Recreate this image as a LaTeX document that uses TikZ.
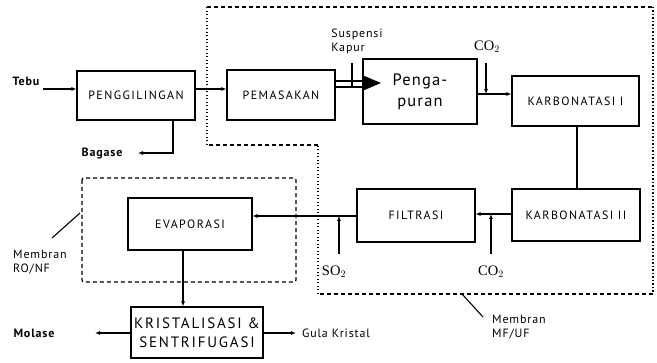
\documentclass[tikz,border=0pt]{standalone}
\usepackage{fontspec}
\setmainfont{PT Sans}[LetterSpace=7]
\newfontfamily\serifchem{Liberation Serif}
\usetikzlibrary{arrows.meta}
\tikzset{
  procbox/.style={draw, line width=1.1pt, minimum width=#1, inner sep=0pt, font=\fontsize{12}{13}\selectfont\addfontfeature{LetterSpace=12}, align=center},
  flow/.style={line width=1.1pt, -{Latex[length=5pt,width=4pt]}},
  plain/.style={line width=1.1pt},
  lbl/.style={inner sep=0pt, font=\fontsize{12}{14}\selectfont},
  blbl/.style={inner sep=0pt, font=\bfseries\fontsize{12}{14}\selectfont},
  chem/.style={inner sep=0pt, font=\serifchem\fontsize{14.5}{15}\selectfont},
  dashb/.style={line width=1.3pt, dash pattern=on 4pt off 3pt},
  dotb/.style={line width=1.1pt, dash pattern=on 1.2pt off 2.3pt},
}
\begin{document}
\begin{tikzpicture}[x=1pt,y=-1pt]
\useasboundingbox (0,0) rectangle (657,363);
% membrane regions
\draw[dashb] (207,7) -- (653,7);
\draw[dotb] (653,7) -- (653,294);
\draw[dashb] (653,294) -- (318,294);
\draw[dotb] (318,294) -- (318,145);
\draw[dashb] (318,145) -- (207,145);
\draw[dotb] (207,145) -- (207,7);
\draw[dashb, rounded corners=2pt] (82,178) rectangle (296,282);
% boxes
\node[procbox=118pt, minimum height=49pt] (peng) at (136,95.5) {PENGGILINGAN};
\node[procbox=108pt, minimum height=50pt] (pema) at (281,95) {PEMASAKAN};
\node[procbox=114pt, minimum height=65pt, line width=1.8pt, font=\fontsize{16.5}{21}\selectfont] (penga) at (420,91.5) {Penga-\\puran};
\node[procbox=127pt, minimum height=50pt] (karb1) at (575.5,101) {KARBONATASI I};
\node[procbox=128pt, minimum height=52pt] (karb2) at (576,215) {KARBONATASI II};
\node[procbox=118pt, minimum height=53pt] (filt) at (416,215.5) {FILTRASI};
\node[procbox=124pt, minimum height=52pt] (evap) at (190,224) {EVAPORASI};
\node[procbox=132pt, minimum height=51pt, font=\fontsize{15}{19}\selectfont\addfontfeature{LetterSpace=12}] (kris) at (197,332.5) {KRISTALISASI \&\\SENTRIFUGASI};
% texts
\node[blbl] (tebu) at (26,81) {Tebu};
\node[blbl] (bagase) at (102,154) {Bagase};
\node[blbl] (molase) at (34,333) {Molase};
\node[lbl] (gula) at (336,333) {Gula Kristal};
\node[lbl, align=left] (susp) at (357,41) {Suspensi\\Kapur};
\node[chem] (co2a) at (487,47) {CO$_2$};
\node[chem] (co2b) at (491,272) {CO$_2$};
\node[chem] (so2) at (334,272) {SO$_2$};
\node[lbl, align=left, anchor=west] (mro) at (13,262) {Membran\\RO/NF};
\node[lbl, align=left, anchor=west] (mmf) at (492,327) {Membran\\MF/UF};
% coordinates
\coordinate (tebuS) at (43,89);
\coordinate (bagT) at (138,153);
\coordinate (kapT) at (352,63);
\coordinate (co2aB) at (486,63);
\coordinate (co2bT) at (491,254);
\coordinate (so2T) at (339,254);
\coordinate (molT) at (95,333);
\coordinate (gulaT) at (296,333);
\coordinate (roP) at (80,213);
\coordinate (roL) at (52,238);
\coordinate (mfP) at (462,294);
\coordinate (mfL) at (483,317);
% connectors
\draw[flow] (tebuS) -- (tebuS -| peng.west);
\draw[flow] (peng.east |- tebuS) -- (pema.west |- tebuS);
\draw[flow] (peng.south -| 173,0) |- (bagT);
\draw[plain] (pema.east |- 0,81) -- (penga.west |- 0,81);
\draw[plain] (pema.east |- 0,87) -- (penga.west |- 0,87);
\fill (penga.west |- 0,75) -- (381,83) -- (penga.west |- 0,91) -- cycle;
\draw[plain] (kapT) -- (352,87);
\draw[flow] (penga.east |- 0,94) -- (karb1.west |- 0,94);
\draw[flow] (co2aB) -- (486,94);
\draw[plain] (karb1.south -| 577,0) -- (karb2.north -| 577,0);
\draw[flow] (karb2.west |- 0,214) -- (filt.east |- 0,214);
\draw[flow] (co2bT) -- (491,214);
\draw[flow] (filt.west |- 0,216) -- (evap.east |- 0,216);
\draw[flow] (so2T) -- (339,216);
\draw[flow] (evap.south -| 183,0) -- (kris.north -| 183,0);
\draw[flow] (kris.west |- molT) -- (molT);
\draw[flow] (kris.east |- gulaT) -- (gulaT);
\draw[plain] (roP) -- (roL);
\draw[plain] (mfP) -- (mfL);
\end{tikzpicture}
\end{document}
